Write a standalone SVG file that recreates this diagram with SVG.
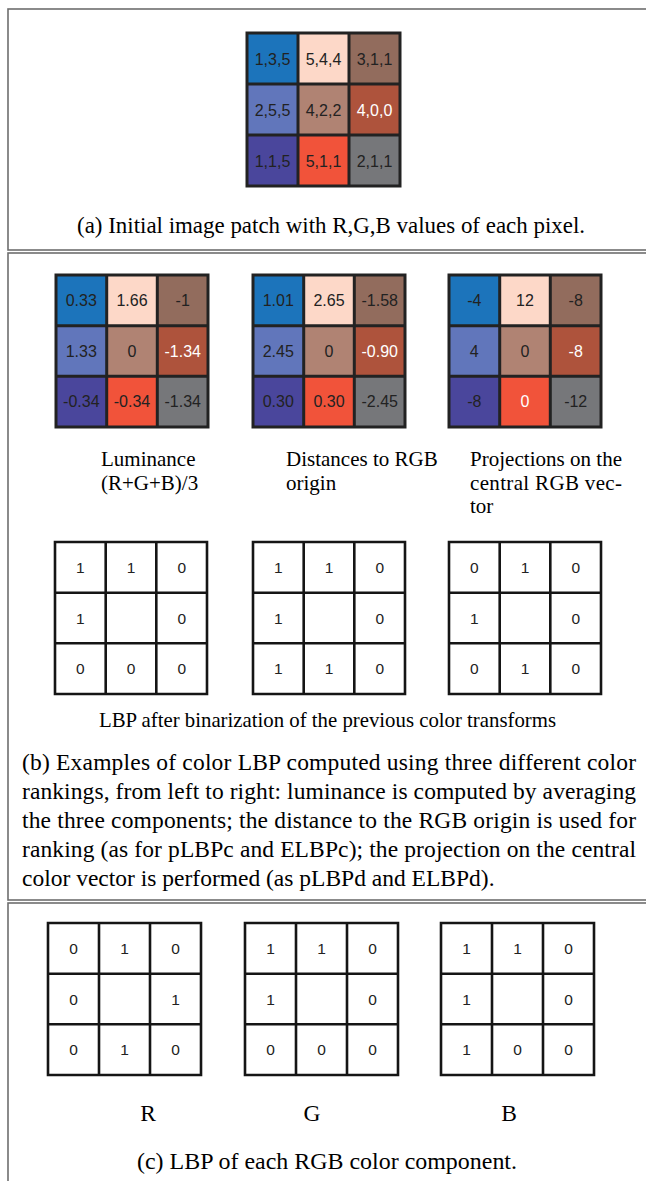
<svg xmlns="http://www.w3.org/2000/svg" width="646" height="1181" viewBox="0 0 646 1181">
  <style>
    .panel { fill: none; stroke: #6e6e6e; stroke-width: 1.6; }
    .grid { fill: none; stroke: #222; stroke-width: 3; }
    .bgrid { fill: none; stroke: #151515; stroke-width: 2.6; }
    .num { font-family: "Liberation Sans", Arial, sans-serif; font-size: 16px; fill: #222; text-anchor: middle; }
    .num.w { fill: #fff; }
    .bin { font-family: "Liberation Sans", Arial, sans-serif; font-size: 15.5px; fill: #222; text-anchor: middle; }
    .cap { font-family: "Liberation Serif", "Times New Roman", serif; font-size: 21px; fill: #000; }
    .big { font-size: 23.5px; }
    .mid { text-anchor: middle; }
    .k1 { fill: #1c74bb; } .k2 { fill: #fdd8c8; } .k3 { fill: #926c5d; }
    .k4 { fill: #6176bb; } .k5 { fill: #b08373; } .k6 { fill: #ae533c; }
    .k7 { fill: #4a469c; } .k8 { fill: #f1533a; } .k9 { fill: #76777a; }
  </style>

  <rect width="646" height="1181" fill="#fff"/>

  <!-- panel frames -->
  <g id="frames">
    <rect class="panel" x="8" y="9" width="650" height="241"/>
    <rect class="panel" x="8" y="253" width="650" height="647"/>
    <rect class="panel" x="8" y="903" width="650" height="300"/>
  </g>

  <!-- (a) RGB patch -->
  <g id="patch-rgb">
    <rect class="k1" x="247" y="33" width="51" height="51"/>
    <rect class="k2" x="298" y="33" width="51" height="51"/>
    <rect class="k3" x="349" y="33" width="51" height="51"/>
    <rect class="k4" x="247" y="84" width="51" height="51"/>
    <rect class="k5" x="298" y="84" width="51" height="51"/>
    <rect class="k6" x="349" y="84" width="51" height="51"/>
    <rect class="k7" x="247" y="135" width="51" height="51"/>
    <rect class="k8" x="298" y="135" width="51" height="51"/>
    <rect class="k9" x="349" y="135" width="51" height="51"/>
    <path class="grid" d="M247 33H400V186H247Z M298 33V186 M349 33V186 M247 84H400 M247 135H400"/>
    <text class="num" x="272.5" y="64.5">1,3,5</text>
    <text class="num" x="323.5" y="64.5">5,4,4</text>
    <text class="num" x="374.5" y="64.5">3,1,1</text>
    <text class="num" x="272.5" y="115.5">2,5,5</text>
    <text class="num" x="323.5" y="115.5">4,2,2</text>
    <text class="num w" x="374.5" y="115.5">4,0,0</text>
    <text class="num" x="272.5" y="166.5">1,1,5</text>
    <text class="num" x="323.5" y="166.5">5,1,1</text>
    <text class="num" x="374.5" y="166.5">2,1,1</text>
  </g>
  <text class="cap big mid" x="331" y="233" textLength="508" lengthAdjust="spacingAndGlyphs">(a) Initial image patch with R,G,B values of each pixel.</text>

  <!-- (b) colour transforms -->
  <g id="luminance">
    <rect class="k1" x="56" y="275" width="50.7" height="50.7"/>
    <rect class="k2" x="106.7" y="275" width="50.7" height="50.7"/>
    <rect class="k3" x="157.3" y="275" width="50.7" height="50.7"/>
    <rect class="k4" x="56" y="325.7" width="50.7" height="50.7"/>
    <rect class="k5" x="106.7" y="325.7" width="50.7" height="50.7"/>
    <rect class="k6" x="157.3" y="325.7" width="50.7" height="50.7"/>
    <rect class="k7" x="56" y="376.3" width="50.7" height="50.7"/>
    <rect class="k8" x="106.7" y="376.3" width="50.7" height="50.7"/>
    <rect class="k9" x="157.3" y="376.3" width="50.7" height="50.7"/>
    <path class="grid" d="M56 275H208V427H56Z M106.7 275V427 M157.3 275V427 M56 325.7H208 M56 376.3H208"/>
    <text class="num" x="81.3" y="306">0.33</text>
    <text class="num" x="132" y="306">1.66</text>
    <text class="num" x="182.7" y="306">-1</text>
    <text class="num" x="81.3" y="356.7">1.33</text>
    <text class="num" x="132" y="356.7">0</text>
    <text class="num w" x="182.7" y="356.7">-1.34</text>
    <text class="num" x="81.3" y="407.3">-0.34</text>
    <text class="num" x="132" y="407.3">-0.34</text>
    <text class="num" x="182.7" y="407.3">-1.34</text>
  </g>
  <g id="distance">
    <rect class="k1" x="253" y="275" width="50.7" height="50.7"/>
    <rect class="k2" x="303.7" y="275" width="50.7" height="50.7"/>
    <rect class="k3" x="354.3" y="275" width="50.7" height="50.7"/>
    <rect class="k4" x="253" y="325.7" width="50.7" height="50.7"/>
    <rect class="k5" x="303.7" y="325.7" width="50.7" height="50.7"/>
    <rect class="k6" x="354.3" y="325.7" width="50.7" height="50.7"/>
    <rect class="k7" x="253" y="376.3" width="50.7" height="50.7"/>
    <rect class="k8" x="303.7" y="376.3" width="50.7" height="50.7"/>
    <rect class="k9" x="354.3" y="376.3" width="50.7" height="50.7"/>
    <path class="grid" d="M253 275H405V427H253Z M303.7 275V427 M354.3 275V427 M253 325.7H405 M253 376.3H405"/>
    <text class="num" x="278.3" y="306">1.01</text>
    <text class="num" x="329" y="306">2.65</text>
    <text class="num" x="379.7" y="306">-1.58</text>
    <text class="num" x="278.3" y="356.7">2.45</text>
    <text class="num" x="329" y="356.7">0</text>
    <text class="num w" x="379.7" y="356.7">-0.90</text>
    <text class="num" x="278.3" y="407.3">0.30</text>
    <text class="num" x="329" y="407.3">0.30</text>
    <text class="num" x="379.7" y="407.3">-2.45</text>
  </g>
  <g id="projection">
    <rect class="k1" x="449" y="275" width="50.7" height="50.7"/>
    <rect class="k2" x="499.7" y="275" width="50.7" height="50.7"/>
    <rect class="k3" x="550.3" y="275" width="50.7" height="50.7"/>
    <rect class="k4" x="449" y="325.7" width="50.7" height="50.7"/>
    <rect class="k5" x="499.7" y="325.7" width="50.7" height="50.7"/>
    <rect class="k6" x="550.3" y="325.7" width="50.7" height="50.7"/>
    <rect class="k7" x="449" y="376.3" width="50.7" height="50.7"/>
    <rect class="k8" x="499.7" y="376.3" width="50.7" height="50.7"/>
    <rect class="k9" x="550.3" y="376.3" width="50.7" height="50.7"/>
    <path class="grid" d="M449 275H601V427H449Z M499.7 275V427 M550.3 275V427 M449 325.7H601 M449 376.3H601"/>
    <text class="num" x="474.3" y="306">-4</text>
    <text class="num" x="525" y="306">12</text>
    <text class="num" x="575.7" y="306">-8</text>
    <text class="num" x="474.3" y="356.7">4</text>
    <text class="num" x="525" y="356.7">0</text>
    <text class="num w" x="575.7" y="356.7">-8</text>
    <text class="num" x="474.3" y="407.3">-8</text>
    <text class="num w" x="525" y="407.3">0</text>
    <text class="num" x="575.7" y="407.3">-12</text>
  </g>

  <g id="transform-labels">
    <text class="cap" x="101" y="466">Luminance</text>
    <text class="cap" x="101" y="490">(R+G+B)/3</text>
    <text class="cap" x="286" y="466">Distances to RGB</text>
    <text class="cap" x="286" y="490">origin</text>
    <text class="cap" x="470" y="466" textLength="152" lengthAdjust="spacing">Projections on the</text>
    <text class="cap" x="470" y="490" textLength="152" lengthAdjust="spacing">central RGB vec-</text>
    <text class="cap" x="470" y="513">tor</text>
  </g>

  <g id="lbp-luminance">
    <path class="bgrid" d="M55 542H207V694H55Z M105.7 542V694 M156.3 542V694 M55 592.7H207 M55 643.3H207"/>
    <text class="bin" x="80.3" y="573">1</text>
    <text class="bin" x="131" y="573">1</text>
    <text class="bin" x="181.7" y="573">0</text>
    <text class="bin" x="80.3" y="623.7">1</text>
    <text class="bin" x="181.7" y="623.7">0</text>
    <text class="bin" x="80.3" y="674.3">0</text>
    <text class="bin" x="131" y="674.3">0</text>
    <text class="bin" x="181.7" y="674.3">0</text>
  </g>
  <g id="lbp-distance">
    <path class="bgrid" d="M253 542H405V694H253Z M303.7 542V694 M354.3 542V694 M253 592.7H405 M253 643.3H405"/>
    <text class="bin" x="278.3" y="573">1</text>
    <text class="bin" x="329" y="573">1</text>
    <text class="bin" x="379.7" y="573">0</text>
    <text class="bin" x="278.3" y="623.7">1</text>
    <text class="bin" x="379.7" y="623.7">0</text>
    <text class="bin" x="278.3" y="674.3">1</text>
    <text class="bin" x="329" y="674.3">1</text>
    <text class="bin" x="379.7" y="674.3">0</text>
  </g>
  <g id="lbp-projection">
    <path class="bgrid" d="M449 542H601V694H449Z M499.7 542V694 M550.3 542V694 M449 592.7H601 M449 643.3H601"/>
    <text class="bin" x="474.3" y="573">0</text>
    <text class="bin" x="525" y="573">1</text>
    <text class="bin" x="575.7" y="573">0</text>
    <text class="bin" x="474.3" y="623.7">1</text>
    <text class="bin" x="575.7" y="623.7">0</text>
    <text class="bin" x="474.3" y="674.3">0</text>
    <text class="bin" x="525" y="674.3">1</text>
    <text class="bin" x="575.7" y="674.3">0</text>
  </g>

  <text class="cap mid" x="327.5" y="727" textLength="457" lengthAdjust="spacingAndGlyphs">LBP after binarization of the previous color transforms</text>

  <g id="caption-b">
    <text class="cap big" x="22" y="770" textLength="614" lengthAdjust="spacing">(b) Examples of color LBP computed using three different color</text>
    <text class="cap big" x="22" y="799" textLength="614" lengthAdjust="spacing">rankings, from left to right: luminance is computed by averaging</text>
    <text class="cap big" x="22" y="828" textLength="614" lengthAdjust="spacing">the three components; the distance to the RGB origin is used for</text>
    <text class="cap big" x="22" y="857" textLength="614" lengthAdjust="spacing">ranking (as for pLBPc and ELBPc); the projection on the central</text>
    <text class="cap big" x="22" y="886">color vector is performed (as pLBPd and ELBPd).</text>
  </g>

  <!-- (c) per-channel LBP -->
  <g id="lbp-r">
    <path class="bgrid" d="M48 923H201V1075H48Z M99 923V1075 M150 923V1075 M48 973.7H201 M48 1024.3H201"/>
    <text class="bin" x="73.5" y="954">0</text>
    <text class="bin" x="124.5" y="954">1</text>
    <text class="bin" x="175.5" y="954">0</text>
    <text class="bin" x="73.5" y="1004.7">0</text>
    <text class="bin" x="175.5" y="1004.7">1</text>
    <text class="bin" x="73.5" y="1055.3">0</text>
    <text class="bin" x="124.5" y="1055.3">1</text>
    <text class="bin" x="175.5" y="1055.3">0</text>
  </g>
  <g id="lbp-g">
    <path class="bgrid" d="M245 923H398V1075H245Z M296 923V1075 M347 923V1075 M245 973.7H398 M245 1024.3H398"/>
    <text class="bin" x="270.5" y="954">1</text>
    <text class="bin" x="321.5" y="954">1</text>
    <text class="bin" x="372.5" y="954">0</text>
    <text class="bin" x="270.5" y="1004.7">1</text>
    <text class="bin" x="372.5" y="1004.7">0</text>
    <text class="bin" x="270.5" y="1055.3">0</text>
    <text class="bin" x="321.5" y="1055.3">0</text>
    <text class="bin" x="372.5" y="1055.3">0</text>
  </g>
  <g id="lbp-b">
    <path class="bgrid" d="M441 923H594V1075H441Z M492 923V1075 M543 923V1075 M441 973.7H594 M441 1024.3H594"/>
    <text class="bin" x="466.5" y="954">1</text>
    <text class="bin" x="517.5" y="954">1</text>
    <text class="bin" x="568.5" y="954">0</text>
    <text class="bin" x="466.5" y="1004.7">1</text>
    <text class="bin" x="568.5" y="1004.7">0</text>
    <text class="bin" x="466.5" y="1055.3">1</text>
    <text class="bin" x="517.5" y="1055.3">0</text>
    <text class="bin" x="568.5" y="1055.3">0</text>
  </g>

  <g id="channel-labels">
    <text class="cap big mid" x="148" y="1121">R</text>
    <text class="cap big mid" x="312" y="1121">G</text>
    <text class="cap big mid" x="509" y="1121">B</text>
  </g>
  <text class="cap big mid" x="327" y="1169" textLength="380" lengthAdjust="spacingAndGlyphs">(c) LBP of each RGB color component.</text>
</svg>
